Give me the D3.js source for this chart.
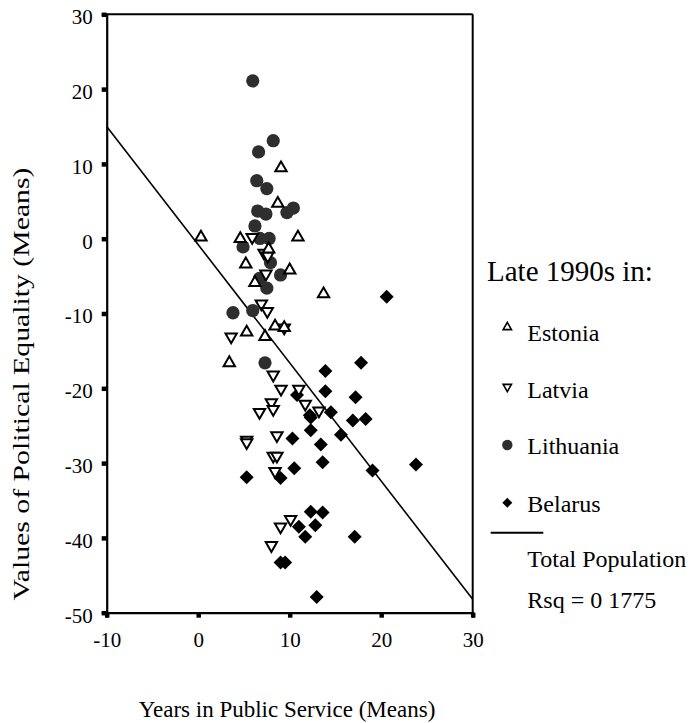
<!DOCTYPE html>
<html><head><meta charset="utf-8">
<script src="https://cdn.jsdelivr.net/npm/d3@7"></script>
<style>body{margin:0;background:#fff}svg{display:block}text{font-family:"Liberation Serif","Times New Roman",serif;fill:#000}</style>
</head><body><svg id="c" width="692" height="723"></svg>
<script>
const xTicks = [-10, 0, 10, 20, 30];
const yTicks = [30, 20, 10, 0, -10, -20, -30, -40, -50];
const xTitle = "Years in Public Service (Means)";
const yTitle = "Values of Political Equality (Means)";
const legendTitle = "Late 1990s in:";
const seriesNames = ["Estonia", "Latvia", "Lithuania", "Belarus"];
const estonia = [[0.3,0.2],[4.6,0],[10.9,0.2],[9.05,9.45],[8.7,4.7],[7.7,-1.4],[5.2,-3.4],[10.0,-4.2],[6.2,-5.9],[13.7,-7.4],[8.4,-11.7],[9.4,-11.9],[5.3,-12.5],[7.3,-13.1],[3.4,-16.6]];
const latvia = [[5.9,0.2],[7.2,-1.9],[7.6,-2.3],[7.4,-4.7],[6.9,-8.7],[7.55,-9.7],[9.4,-11.9],[3.6,-13.1],[8.2,-18.2],[9.05,-20.1],[11.0,-20.1],[8.0,-21.9],[8.2,-22.8],[6.7,-23.2],[11.7,-22.1],[13.2,-23.0],[8.6,-26.3],[5.3,-26.9],[5.3,-27.25],[8.2,-29.05],[8.6,-29.05],[8.4,-31.1],[10.1,-37.5],[9.0,-38.5],[8.0,-41.0]];
const lithuania = [[5.96,21.1],[8.2,13.1],[6.6,11.6],[6.4,7.75],[7.5,6.7],[6.5,3.7],[7.4,3.3],[9.7,3.5],[10.4,4.1],[6.2,1.7],[6.75,0.03],[7.75,0.03],[4.9,-1.1],[7.9,-3.2],[9.0,-4.85],[6.7,-5.3],[7.5,-6.6],[3.8,-9.9],[5.96,-9.6],[7.3,-16.6]];
const belarus = [[20.6,-7.75],[17.8,-16.6],[13.9,-17.7],[13.9,-20.4],[17.2,-21.2],[10.8,-20.9],[12.2,-23.6],[12.3,-23.9],[14.5,-23.2],[16.9,-24.3],[18.3,-24.1],[12.3,-25.6],[15.6,-26.2],[10.3,-26.7],[13.4,-27.5],[13.6,-29.9],[19.05,-31.0],[23.8,-30.2],[10.5,-30.7],[5.3,-31.9],[9.0,-32.0],[12.3,-36.5],[13.6,-36.6],[12.8,-38.3],[11.0,-38.5],[11.7,-39.85],[17.1,-39.85],[9.0,-43.3],[9.5,-43.3],[12.95,-47.9]];
const regressionX = [-10, 30];
const regressionY = [15, -48.2];
const rsqLabel = "Rsq = 0 1775";
const lineLabel = "Total Population";

const svg = d3.select("#c");
const x = d3.scaleLinear().domain([-10, 30]).range([106.7, 472.7]);
const y = d3.scaleLinear().domain([-50, 30]).range([612.7, 14.3]);

// frame top & right
svg.append("line").attr("x1", x(-10)).attr("x2", x(30)).attr("y1", y(30)).attr("y2", y(30)).attr("stroke", "#000").attr("stroke-width", 2);
svg.append("line").attr("x1", x(30)).attr("x2", x(30)).attr("y1", y(30)).attr("y2", y(-50)).attr("stroke", "#000").attr("stroke-width", 2);

// axes
const fmt = d => String(d);
const xAxis = svg.append("g").attr("transform", `translate(0,${y(-50)})`)
  .call(d3.axisBottom(x).tickValues(xTicks).tickSize(5).tickPadding(14).tickFormat(fmt));
const yAxis = svg.append("g").attr("transform", `translate(${x(-10)},0)`)
  .call(d3.axisLeft(y).tickValues(yTicks).tickSize(5).tickPadding(9).tickFormat(fmt));
[xAxis, yAxis].forEach(a => {
  a.select(".domain").attr("stroke", "#000").attr("stroke-width", 2.2);
  a.selectAll(".tick line").attr("stroke", "#000").attr("stroke-width", 4.5);
  a.selectAll(".tick text").style("font-family", '"Liberation Serif",serif').style("font-size", "21px").attr("fill", "#000");
});
xAxis.selectAll(".tick text").attr("dy", "0.71em");
yAxis.selectAll(".tick text").attr("dy", "0.45em");

// regression line
svg.append("line").attr("x1", x(regressionX[0])).attr("y1", y(regressionY[0]))
  .attr("x2", x(regressionX[1])).attr("y2", y(regressionY[1])).attr("stroke", "#000").attr("stroke-width", 1.6);

const triUp = d3.symbol().type(d3.symbolTriangle).size(56)();
const circ = d3.symbol().type(d3.symbolCircle).size(138)();
const diam = d3.symbol().type(d3.symbolSquare).size(98)();

function drawSeries(data, path, rot, fill, stroke, sw) {
  svg.append("g").selectAll("path").data(data).join("path")
    .attr("d", path)
    .attr("transform", d => `translate(${x(d[0])},${y(d[1])}) rotate(${rot})`)
    .attr("fill", fill).attr("stroke", stroke).attr("stroke-width", sw);
}
drawSeries(belarus, diam, 45, "#000", "none", 0);
drawSeries(lithuania, circ, 0, "#2e2e2e", "none", 0);
drawSeries(latvia, triUp, 180, "#fff", "#000", 2);
drawSeries(estonia, triUp, 0, "#fff", "#000", 2);

// titles
svg.append("text").attr("x", 287).attr("y", 717).attr("text-anchor", "middle").style("font-size", "23px").text(xTitle);
svg.append("text").attr("transform", "translate(29,384) rotate(-90)").attr("text-anchor", "middle")
  .style("font-size", "24px").attr("textLength", 433).attr("lengthAdjust", "spacingAndGlyphs").text(yTitle);

// legend
const lg = svg.append("g");
lg.append("text").attr("x", 487).attr("y", 281).style("font-size", "29px").text(legendTitle);
const legY = [340.7, 398.3, 454, 511.7];
const legSyms = [
  {p: d3.symbol().type(d3.symbolTriangle).size(30)(), r: 0, f: "#fff", s: "#000", w: 1.6, dy: -13.5},
  {p: d3.symbol().type(d3.symbolTriangle).size(30)(), r: 180, f: "#fff", s: "#000", w: 1.6, dy: -11.5},
  {p: d3.symbol().type(d3.symbolCircle).size(85)(), r: 0, f: "#2e2e2e", s: "none", w: 0, dy: -9},
  {p: d3.symbol().type(d3.symbolSquare).size(50)(), r: 45, f: "#000", s: "none", w: 0, dy: -9}
];
seriesNames.forEach((n, i) => {
  const s = legSyms[i];
  lg.append("path").attr("d", s.p).attr("transform", `translate(507.3,${legY[i] + s.dy}) rotate(${s.r})`)
    .attr("fill", s.f).attr("stroke", s.s).attr("stroke-width", s.w);
  lg.append("text").attr("x", 527.3).attr("y", legY[i]).style("font-size", "24px").text(n);
});
lg.append("line").attr("x1", 490.7).attr("x2", 543.3).attr("y1", 532.7).attr("y2", 532.7).attr("stroke", "#000").attr("stroke-width", 2);
lg.append("text").attr("x", 527.3).attr("y", 567.3).style("font-size", "24px").text(lineLabel);
lg.append("text").attr("x", 527.3).attr("y", 608.3).style("font-size", "24px").text(rsqLabel);
</script></body></html>
